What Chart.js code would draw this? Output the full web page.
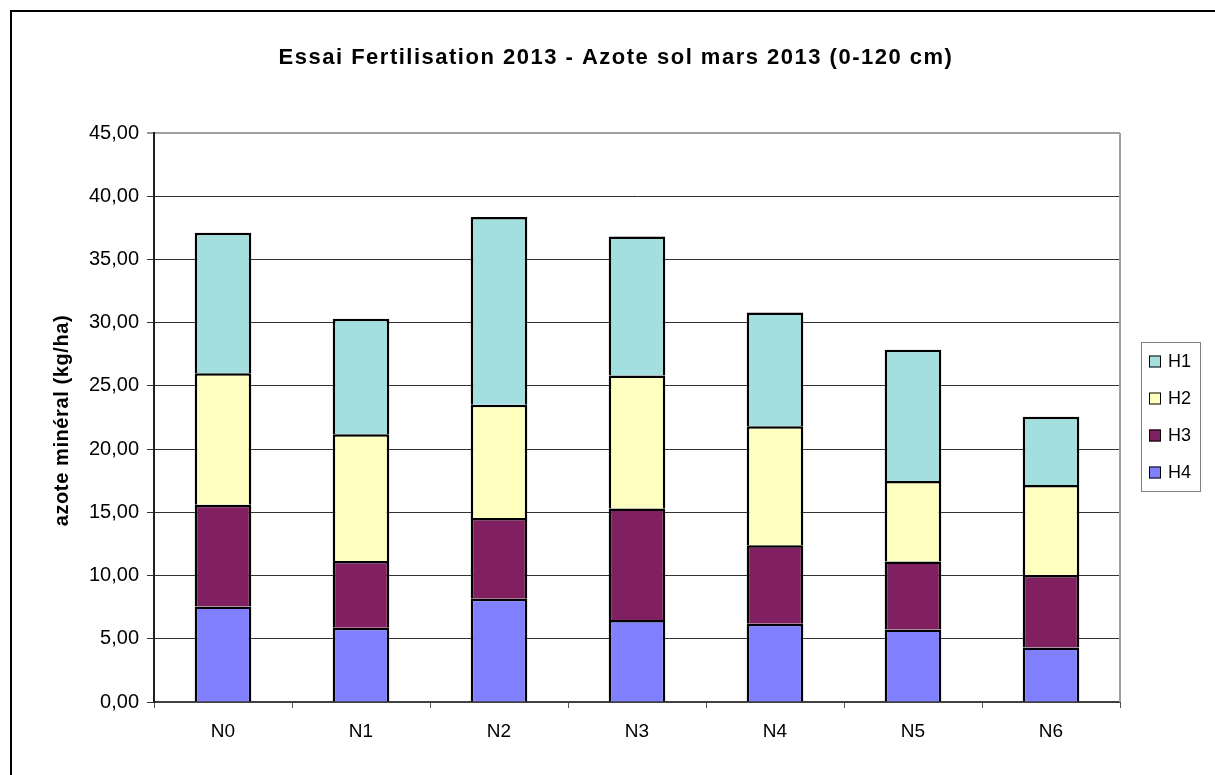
<!DOCTYPE html>
<html>
<head>
<meta charset="utf-8">
<script src="https://cdn.jsdelivr.net/npm/chart.js@4.4.1/dist/chart.umd.min.js"></script>
<style>
  html, body { margin: 0; padding: 0; background: #ffffff; }
  canvas { display: block; }
</style>
</head>
<body>
<canvas id="chart" width="1215" height="775"></canvas>
<script>
// Soil mineral nitrogen, March 2013, by horizon (kg/ha)
const categories = ['N0', 'N1', 'N2', 'N3', 'N4', 'N5', 'N6'];
const h1 = [11.13, 9.14, 14.85, 10.99, 9.01, 10.38, 5.40];
const h2 = [10.39, 10.02, 8.96, 10.52, 9.41, 6.36, 7.12];
const h3 = [8.04, 5.27, 6.38, 8.82, 6.20, 5.38, 5.72];
const h4 = [7.56, 5.88, 8.17, 6.49, 6.19, 5.74, 4.32];
const seriesNames = ['H1', 'H2', 'H3', 'H4'];
const seriesColors = ['#A3DFDF', '#FFFFC0', '#802060', '#8080FF'];
const titleText = 'Essai Fertilisation 2013 - Azote sol mars 2013 (0-120 cm)';
const yTitleText = 'azote minéral (kg/ha)';

const FONT = '"Liberation Sans", Arial, Helvetica, sans-serif';

// stacked bottom-up: H4 first, H1 last
const seriesValues = [h1, h2, h3, h4];
const datasets = [3, 2, 1, 0].map(i => ({
  label: seriesNames[i],
  data: seriesValues[i],
  backgroundColor: seriesColors[i],
  borderColor: '#000000',
  borderWidth: 2.5,
  borderSkipped: 'start',
  barPercentage: 0.41,
  categoryPercentage: 1.0
}));

const decorations = {
  id: 'decorations',
  beforeDraw(chart) {
    const ctx = chart.ctx;
    ctx.save();
    ctx.fillStyle = '#ffffff';
    ctx.fillRect(0, 0, chart.width, chart.height);
    ctx.restore();
  },
  afterDraw(chart) {
    const ctx = chart.ctx;
    const a = chart.chartArea;
    ctx.save();

    // outer frame of the chart
    ctx.strokeStyle = '#000000';
    ctx.lineWidth = 2;
    ctx.beginPath();
    ctx.moveTo(11, chart.height);
    ctx.lineTo(11, 11);
    ctx.lineTo(chart.width, 11);
    ctx.stroke();

    // plot area right border
    ctx.strokeStyle = '#a0a0a0';
    ctx.lineWidth = 2;
    ctx.beginPath();
    ctx.moveTo(a.right, a.top);
    ctx.lineTo(a.right, a.bottom);
    ctx.stroke();

    // title
    ctx.fillStyle = '#000000';
    ctx.font = 'bold 22px ' + FONT;
    ctx.letterSpacing = '1.5px';
    ctx.textAlign = 'center';
    ctx.textBaseline = 'alphabetic';
    ctx.fillText(titleText, 616, 64);

    // y axis title
    ctx.save();
    ctx.translate(67.5, (a.top + a.bottom) / 2 + 3);
    ctx.rotate(-Math.PI / 2);
    ctx.font = 'bold 20px ' + FONT;
    ctx.letterSpacing = '0.6px';
    ctx.textAlign = 'center';
    ctx.textBaseline = 'alphabetic';
    ctx.fillText(yTitleText, 0, 0);
    ctx.restore();

    // legend
    ctx.letterSpacing = '0px';
    const lx = 1141, ly = 342, lw = 59, lh = 149;
    ctx.strokeStyle = '#808080';
    ctx.lineWidth = 1;
    ctx.strokeRect(lx + 0.5, ly + 0.5, lw, lh);
    const items = chart.data.datasets.slice().reverse();
    ctx.font = '18px ' + FONT;
    ctx.textAlign = 'left';
    ctx.textBaseline = 'middle';
    items.forEach((ds, i) => {
      const cy = 361.5 + i * 37;
      ctx.fillStyle = ds.backgroundColor;
      ctx.fillRect(1149, cy - 6, 12, 12);
      ctx.strokeStyle = '#000000';
      ctx.lineWidth = 1;
      ctx.strokeRect(1149.5, cy - 5.5, 11, 11);
      ctx.fillStyle = '#000000';
      ctx.fillText(ds.label, 1168, cy + 1);
    });

    ctx.restore();
  }
};

new Chart(document.getElementById('chart'), {
  type: 'bar',
  data: { labels: categories, datasets },
  options: {
    responsive: false,
    animation: false,
    devicePixelRatio: 1,
    layout: { padding: { top: 133, right: 95, bottom: 0, left: 0 } },
    plugins: {
      legend: { display: false },
      title: { display: false },
      tooltip: { enabled: false }
    },
    scales: {
      x: {
        stacked: true,
        afterFit(scale) { scale.height = 73; },
        grid: {
          drawOnChartArea: false,
          drawTicks: true,
          tickLength: 6,
          color: '#555555',
          offset: true
        },
        border: { display: true, color: '#404040', width: 2 },
        ticks: {
          color: '#000000',
          font: { family: FONT, size: 19 },
          padding: 12,
          maxRotation: 0
        }
      },
      y: {
        stacked: true,
        min: 0,
        max: 45,
        afterFit(scale) { scale.width = 154; },
        grid: {
          color: ctx => (ctx.tick && ctx.tick.value === 45) ? '#a0a0a0' : '#333333',
          lineWidth: ctx => (ctx.tick && ctx.tick.value === 45) ? 2 : 1,
          tickColor: '#333333',
          tickWidth: 1,
          tickLength: 7
        },
        border: { display: true, color: '#202020', width: 2 },
        ticks: {
          stepSize: 5,
          color: '#000000',
          font: { family: FONT, size: 20 },
          padding: 8,
          callback: v => Number(v).toFixed(2).replace('.', ',')
        }
      }
    }
  },
  plugins: [decorations]
});
</script>
</body>
</html>
